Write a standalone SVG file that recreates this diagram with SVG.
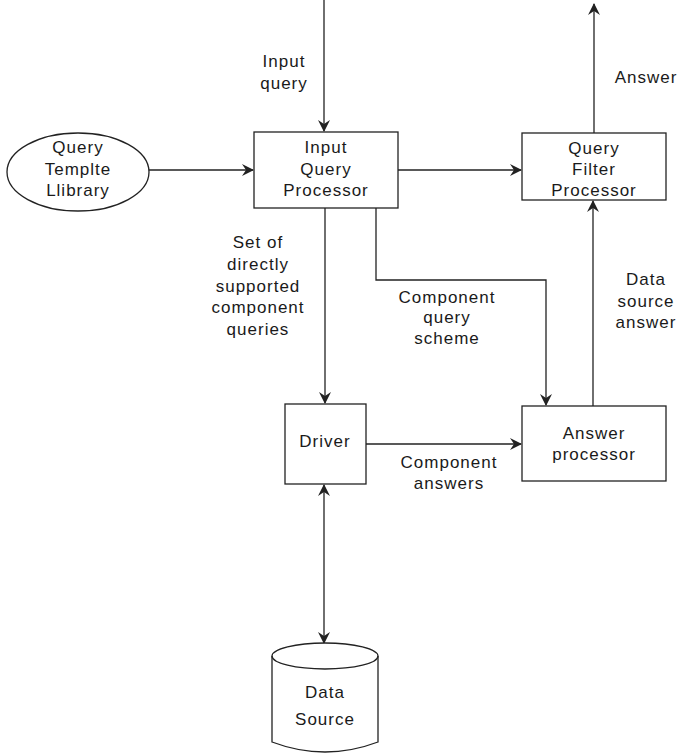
<svg xmlns="http://www.w3.org/2000/svg" width="680" height="755" viewBox="0 0 680 755">
<style>
.box{fill:#fff;stroke:#222;stroke-width:1.3}
.ln{fill:none;stroke:#222;stroke-width:1.3}
text{font-family:"Liberation Sans",Arial,sans-serif;font-size:17px;letter-spacing:1px;fill:#1a1a1a;text-anchor:middle}
</style>
<defs>
<marker id="ah" viewBox="0 0 12 12" refX="11" refY="6" markerWidth="12" markerHeight="12" markerUnits="userSpaceOnUse" orient="auto-start-reverse">
<path d="M0,0 L12,6 L0,12 L4,6 Z" fill="#222"/>
</marker>
</defs>
<rect width="680" height="755" fill="#fff"/>
<g id="connectors">
<line class="ln" x1="324" y1="0" x2="324" y2="131" marker-end="url(#ah)"/>
<line class="ln" x1="149" y1="170" x2="253" y2="170" marker-end="url(#ah)"/>
<line class="ln" x1="398" y1="170" x2="521" y2="170" marker-end="url(#ah)"/>
<line class="ln" x1="594" y1="133" x2="594" y2="4" marker-end="url(#ah)"/>
<line class="ln" x1="325" y1="208" x2="325" y2="403" marker-end="url(#ah)"/>
<polyline class="ln" points="376,208 376,280 546,280 546,405" marker-end="url(#ah)"/>
<line class="ln" x1="593" y1="406" x2="593" y2="201" marker-end="url(#ah)"/>
<line class="ln" x1="366" y1="444" x2="521" y2="444" marker-end="url(#ah)"/>
<line class="ln" x1="324" y1="485" x2="324" y2="643" marker-start="url(#ah)" marker-end="url(#ah)"/>
</g>
<g id="labels">
<text x="284" y="67">Input</text>
<text x="284" y="89">query</text>
<text x="646" y="83">Answer</text>
<text x="258" y="248">Set of</text>
<text x="258" y="270">directly</text>
<text x="258" y="292">supported</text>
<text x="258" y="313">component</text>
<text x="258" y="335">queries</text>
<text x="447" y="303">Component</text>
<text x="447" y="323">query</text>
<text x="447" y="344">scheme</text>
<text x="646" y="285">Data</text>
<text x="646" y="307">source</text>
<text x="646" y="328">answer</text>
<text x="449" y="468">Component</text>
<text x="449" y="489">answers</text>
</g>
<g id="query-template-library">
<ellipse class="box" cx="78" cy="172" rx="71" ry="39"/>
<text x="78" y="153">Query</text>
<text x="78" y="175">Templte</text>
<text x="78" y="196">Llibrary</text>
</g>
<g id="input-query-processor">
<rect class="box" x="254" y="132" width="144" height="76"/>
<text x="326" y="153">Input</text>
<text x="326" y="175">Query</text>
<text x="326" y="196">Processor</text>
</g>
<g id="query-filter-processor">
<rect class="box" x="522" y="133" width="144" height="67"/>
<text x="594" y="154">Query</text>
<text x="594" y="175">Filter</text>
<text x="594" y="196">Processor</text>
</g>
<g id="driver">
<rect class="box" x="285" y="404" width="81" height="80"/>
<text x="325" y="447">Driver</text>
</g>
<g id="answer-processor">
<rect class="box" x="522" y="406" width="144" height="75"/>
<text x="594" y="439">Answer</text>
<text x="594" y="460">processor</text>
</g>
<g id="data-source">
<path class="box" d="M272,656 A53,13 0 0 1 378,656 L378,742 Q325,762 272,742 Z"/>
<path class="ln" d="M272,656 A53,13 0 0 0 378,656"/>
<text x="325" y="698">Data</text>
<text x="325" y="725">Source</text>
</g>
</svg>
